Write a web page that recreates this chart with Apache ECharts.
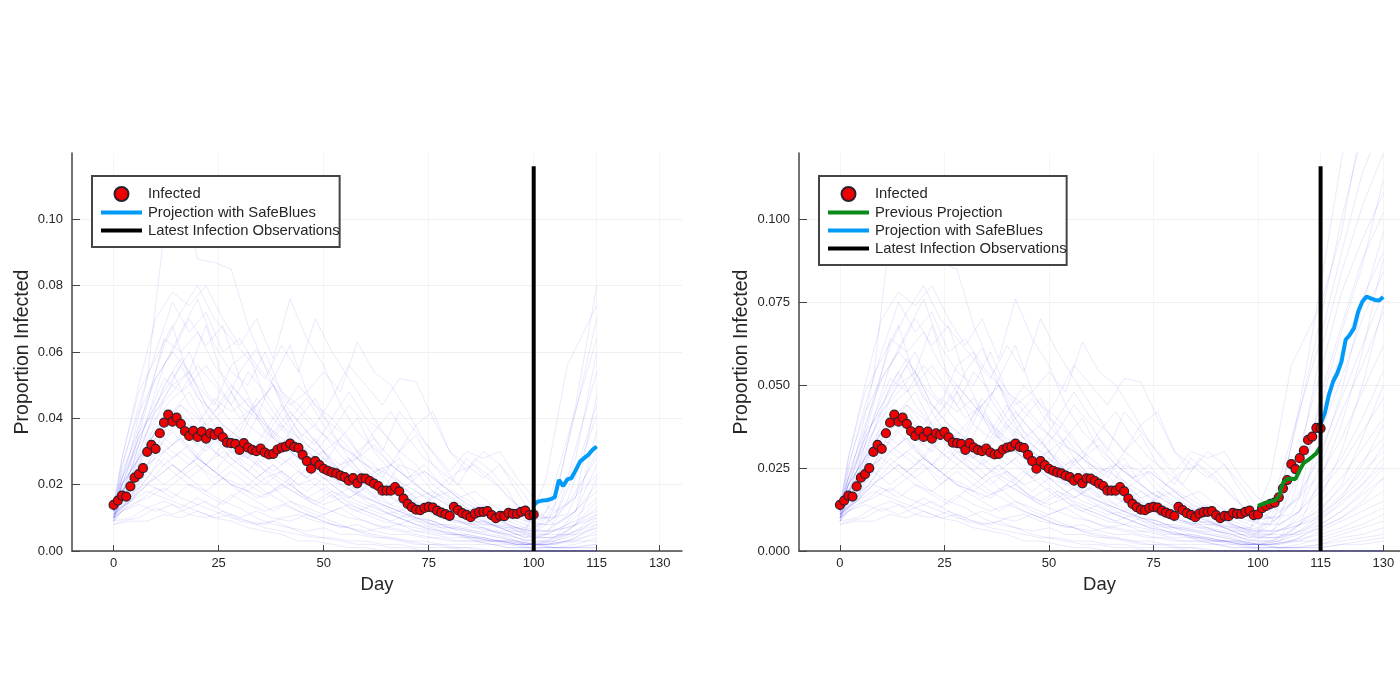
<!DOCTYPE html>
<html>
<head>
<meta charset="utf-8">
<style>
  html, body { margin: 0; padding: 0; background: #fff; }
  #chart { width: 1400px; height: 700px; }
</style>
<script src="https://cdn.jsdelivr.net/npm/echarts@6/dist/echarts.min.js"></script>
</head>
<body>
<div id="chart"></div>
<script>
// observed proportion infected, days 0-115
const infected = [
  .0139, .0152, .0167, .0164, .0195, .0221, .0232, .0250, .0299, .0320, .0308, .0355, .0387, .0411, .0390, .0402,
  .0383, .0361, .0347, .0362, .0344, .0360, .0339, .0355, .0350, .0359, .0343, .0327, .0325, .0323, .0305, .0325,
  .0312, .0305, .0301, .0309, .0297, .0291, .0293, .0306, .0312, .0315, .0324, .0314, .0311, .0290, .0271, .0248,
  .0271, .0259, .0248, .0242, .0237, .0234, .0227, .0223, .0212, .0220, .0204, .0219, .0218, .0211, .0203, .0196,
  .0182, .0182, .0182, .0193, .0180, .0158, .0142, .0132, .0125, .0123, .0130, .0133, .0131, .0122, .0116, .0111,
  .0106, .0133, .0123, .0114, .0109, .0102, .0113, .0117, .0118, .0120, .0108, .0099, .0106, .0105, .0115, .0112,
  .0112, .0118, .0122, .0108, .0110, .0129, .0136, .0142, .0146, .0162, .0189, .0214, .0262, .0247, .0280, .0303,
  .0335, .0345, .0371, .0370
]
const observedLeft = 101 // the left panel stops at day 100

// projections
const projLeftDays = [100, 101, 102, 103, 104, 105, 106, 107, 108, 109, 110, 111, 112, 113, 114, 115]
const projLeft = [.0139, .0149, .0152, .0153, .0156, .0162, .0214, .0196, .0216, .0220, .0244, .0269, .0280, .0290, .0305, .0315]
const prevDays = [100, 102, 104, 105, 106, 107, 108, 109, 110, 111, 112, 113, 114, 115]
const prevProj = [.0136, .0146, .0152, .0163, .0205, .0217, .0218, .0217, .0244, .0266, .0274, .0284, .0295, .0315]
const projRightDays = [115, 116, 117, 118, 119, 120, 121, 122, 123, 124, 125, 126, 127, 128, 129, 130]
const projRight = [.0383, .0415, .0471, .0511, .0536, .0571, .0637, .0652, .0672, .0722, .0752, .0767, .0762, .0757, .0755, .0766]

const latestLeft = 100
const latestRight = 115
const latestTop = .116

// ticks
const xTicks = [0, 25, 50, 75, 100, 115, 130]
const yTicksLeft = [0, .02, .04, .06, .08, .10]
const yTicksRight = [0, .025, .05, .075, .10]

// safe blues trajectories, read by eye in thousandths. odd ones use daysA, even ones daysB
const daysA = [0, 4, 8, 12, 16, 20, 24, 28, 32, 36, 40, 44, 48, 52, 56, 60, 64, 68, 72, 76, 80, 84, 88, 92, 96, 100, 105, 110, 115, 120, 125, 130]
const daysB = [0, 2, 6, 10, 14, 18, 22, 26, 30, 34, 38, 42, 46, 50, 54, 58, 62, 66, 70, 74, 78, 82, 86, 90, 94, 98, 103, 108, 115, 120, 125, 130]
const trajectories = [
  [14, 30, 52, 96, 108, 88, 87, 85, 68, 56, 48, 42, 37, 33, 30, 26, 24, 21, 18, 15, 12, 10, 8, 7, 6, 5, 14, 44, 80, 118, 150, 170],
  [12, 28, 50, 70, 78, 74, 80, 70, 62, 70, 58, 76, 64, 56, 44, 36, 31, 26, 22, 18, 15, 12, 9, 8, 7, 6, 22, 56, 74, 96, 130, 160],
  [13, 27, 46, 62, 72, 80, 70, 64, 58, 52, 62, 54, 70, 60, 52, 44, 36, 30, 26, 20, 16, 13, 11, 9, 7, 6, 16, 42, 70, 100, 126, 148],
  [11, 25, 44, 60, 75, 66, 72, 60, 64, 56, 50, 44, 48, 54, 48, 63, 54, 50, 42, 33, 26, 20, 15, 11, 9, 7, 12, 34, 64, 90, 114, 130],
  [10, 24, 40, 56, 66, 76, 62, 54, 50, 60, 48, 44, 38, 46, 56, 50, 44, 52, 51, 40, 30, 24, 30, 26, 18, 10, 10, 28, 60, 84, 104, 120],
  [14, 26, 42, 52, 60, 54, 68, 52, 44, 40, 52, 62, 48, 40, 36, 30, 34, 28, 22, 18, 15, 12, 10, 8, 6, 4, 8, 22, 54, 78, 94, 108],
  [12, 22, 36, 50, 58, 50, 44, 56, 60, 46, 38, 34, 30, 36, 44, 38, 30, 42, 36, 30, 24, 30, 28, 30, 22, 16, 12, 16, 47, 68, 88, 102],
  [9, 20, 34, 44, 52, 60, 48, 42, 54, 61, 50, 40, 32, 28, 24, 30, 26, 20, 16, 14, 18, 15, 11, 8, 6, 4, 5, 15, 41, 60, 76, 90],
  [13, 22, 32, 46, 56, 46, 42, 50, 44, 38, 32, 40, 46, 36, 28, 22, 18, 26, 24, 18, 14, 11, 9, 7, 5, 4, 4, 12, 36, 52, 70, 84],
  [10, 18, 30, 42, 50, 54, 44, 38, 34, 44, 50, 38, 30, 26, 34, 40, 30, 24, 18, 14, 20, 24, 26, 22, 16, 12, 10, 11, 30, 46, 62, 78],
  [11, 16, 24, 34, 40, 36, 42, 48, 38, 34, 42, 50, 44, 40, 48, 40, 36, 30, 38, 42, 30, 26, 22, 26, 20, 13, 8, 12, 26, 42, 56, 72],
  [10, 16, 22, 30, 36, 30, 26, 32, 38, 44, 34, 40, 46, 38, 32, 28, 36, 42, 34, 28, 24, 20, 28, 24, 18, 9, 8, 14, 23, 34, 48, 62],
  [12, 20, 30, 38, 44, 40, 34, 30, 28, 36, 44, 36, 32, 40, 34, 26, 22, 30, 35, 26, 20, 28, 23, 19, 14, 8, 8, 12, 20, 28, 40, 54],
  [13, 24, 36, 42, 48, 54, 44, 38, 34, 30, 36, 42, 36, 30, 24, 28, 32, 26, 22, 26, 20, 17, 14, 11, 8, 6, 6, 10, 18, 26, 36, 46],
  [11, 20, 32, 40, 44, 38, 46, 42, 46, 36, 32, 28, 34, 26, 22, 20, 24, 28, 20, 16, 18, 14, 12, 9, 6, 4, 4, 8, 15, 22, 31, 40],
  [9, 16, 26, 36, 42, 48, 38, 34, 30, 40, 34, 30, 26, 30, 24, 20, 16, 20, 16, 13, 11, 9, 8, 6, 5, 3, 3, 6, 13, 19, 27, 34],
  [14, 22, 34, 40, 36, 32, 38, 34, 28, 32, 38, 32, 28, 24, 28, 22, 18, 15, 18, 14, 11, 8, 7, 5, 4, 3, 3, 6, 11, 17, 24, 30],
  [12, 20, 28, 36, 40, 34, 30, 36, 32, 26, 30, 26, 22, 26, 22, 18, 21, 16, 13, 10, 8, 7, 6, 5, 4, 2, 3, 5, 9, 15, 20, 26],
  [10, 18, 26, 30, 34, 28, 34, 28, 24, 30, 26, 30, 24, 20, 16, 19, 15, 13, 10, 9, 7, 6, 5, 4, 3, 2, 2, 4, 8, 12, 17, 22],
  [13, 18, 24, 32, 28, 32, 26, 30, 26, 22, 26, 22, 18, 22, 18, 15, 13, 11, 9, 7, 6, 5, 4, 3, 3, 2, 2, 3, 7, 10, 14, 18],
  [11, 15, 20, 26, 30, 26, 22, 26, 30, 24, 20, 24, 20, 16, 19, 15, 12, 10, 8, 7, 5, 5, 4, 3, 2, 2, 2, 3, 6, 9, 12, 15],
  [9, 13, 18, 22, 26, 22, 26, 22, 18, 22, 26, 20, 16, 19, 15, 12, 14, 11, 9, 7, 6, 5, 4, 3, 2, 2, 2, 3, 5, 7, 10, 13],
  [12, 15, 20, 18, 22, 26, 20, 24, 20, 17, 20, 17, 14, 17, 13, 11, 9, 8, 7, 6, 5, 4, 4, 3, 2, 1, 1, 2, 4, 6, 8, 11],
  [10, 12, 15, 19, 16, 20, 17, 14, 18, 15, 12, 15, 13, 11, 13, 10, 8, 7, 6, 6, 5, 5, 4, 3, 3, 2, 2, 3, 3, 5, 7, 9],
  [9, 10, 13, 15, 13, 16, 13, 17, 14, 12, 14, 12, 10, 12, 10, 9, 7, 8, 6, 5, 4, 4, 3, 3, 2, 2, 1, 1, 2, 4, 5, 7],
  [8, 9, 10, 13, 11, 13, 15, 12, 10, 12, 10, 9, 11, 9, 7, 8, 6, 5, 5, 4, 4, 3, 3, 2, 2, 1, 1, 1, 2, 3, 4, 5],
  [8, 9, 9, 11, 10, 12, 10, 11, 9, 8, 10, 11, 9, 8, 7, 6, 7, 6, 5, 4, 3, 3, 3, 3, 2, 2, 1, 1, 1, 2, 3, 4],
  [13, 22, 32, 40, 46, 50, 56, 48, 40, 44, 50, 42, 36, 30, 34, 28, 22, 18, 20, 24, 20, 16, 18, 14, 11, 9, 10, 14, 28, 48, 74, 96],
  [12, 24, 40, 52, 48, 56, 50, 44, 54, 48, 40, 34, 38, 32, 26, 22, 25, 20, 16, 18, 15, 12, 14, 11, 9, 7, 10, 24, 44, 66, 86, 112],
  [10, 22, 34, 44, 54, 44, 38, 42, 36, 46, 40, 34, 28, 30, 26, 28, 24, 26, 22, 24, 20, 16, 13, 11, 8, 6, 5, 8, 16, 30, 50, 74],
  [14, 26, 44, 64, 60, 66, 56, 50, 44, 38, 34, 30, 26, 22, 19, 16, 14, 12, 10, 9, 7, 6, 5, 4, 3, 2, 3, 8, 22, 38, 60, 88],
  [11, 20, 28, 34, 30, 26, 32, 36, 30, 26, 23, 20, 25, 28, 22, 18, 15, 12, 10, 14, 11, 9, 7, 6, 5, 3, 5, 8, 12, 20, 34, 50],
  [9, 15, 22, 30, 34, 28, 24, 20, 18, 16, 20, 17, 14, 12, 14, 12, 10, 8, 10, 8, 7, 5, 4, 3, 3, 2, 3, 5, 10, 16, 26, 38],
  [12, 22, 38, 52, 60, 70, 62, 68, 52, 42, 36, 30, 26, 22, 20, 17, 15, 13, 11, 9, 7, 5, 3, 2, 1, 1, 0, 0, 0, 0, 0, 0],
  [10, 16, 26, 36, 42, 36, 30, 26, 22, 18, 15, 12, 10, 8, 7, 5, 4, 3, 2, 2, 1, 1, 0, 0, 0, 0, 0, 0, 0, 0, 0, 0],
  [13, 18, 24, 28, 24, 20, 18, 15, 13, 10, 8, 7, 5, 4, 3, 2, 2, 1, 1, 0, 0, 0, 0, 0, 0, 0, 0, 0, 0, 0, 0, 0],
  [11, 15, 18, 16, 14, 12, 10, 9, 7, 6, 5, 3, 3, 2, 1, 1, 0, 0, 0, 0, 0, 0, 0, 0, 0, 0, 0, 0, 0, 0, 0, 0],
  [14, 28, 48, 58, 68, 52, 42, 34, 28, 24, 19, 15, 12, 10, 8, 6, 5, 4, 3, 2, 2, 1, 1, 0, 0, 0, 0, 0, 0, 0, 0, 0],
  [10, 14, 16, 19, 16, 14, 12, 10, 9, 7, 6, 5, 4, 4, 3, 3, 2, 2, 1, 1, 1, 0, 0, 0, 0, 0, 0, 0, 0, 0, 0, 0],
  [9, 12, 14, 12, 14, 11, 10, 12, 9, 8, 9, 7, 6, 7, 5, 5, 4, 4, 3, 3, 2, 2, 2, 2, 1, 1, 1, 1, 1, 2, 2, 3],
  [12, 18, 24, 20, 24, 28, 24, 20, 18, 22, 24, 18, 15, 18, 15, 13, 11, 12, 9, 8, 8, 7, 7, 6, 6, 5, 5, 5, 7, 10, 15, 22],
  [13, 20, 28, 36, 32, 38, 32, 28, 34, 28, 24, 28, 22, 26, 20, 24, 18, 14, 17, 13, 10, 9, 8, 8, 7, 7, 6, 7, 10, 14, 20, 28],
  [11, 16, 22, 28, 24, 28, 24, 30, 24, 20, 24, 20, 22, 18, 16, 19, 14, 12, 14, 11, 9, 8, 9, 8, 7, 6, 6, 8, 11, 16, 22, 32],
  [10, 15, 19, 22, 26, 22, 18, 22, 20, 16, 18, 20, 16, 14, 16, 13, 11, 9, 11, 8, 7, 7, 6, 6, 5, 5, 4, 5, 8, 12, 18, 25]
]

const textColor = '#262626'
const fontFamily = '"Liberation Sans", Arial, sans-serif'

const pairs = (days, values) => days.map((d, i) => [d, values[i]])

// thin blue lines for one panel, cut at lastDay
const trajectorySeries = (panel, lastDay) => trajectories.map((values, i) => {
    const days = i % 2 === 0 ? daysA : daysB
    return {
        type: 'line',
        xAxisIndex: panel,
        yAxisIndex: panel,
        silent: true,
        symbol: 'none',
        z: 1,
        lineStyle: { width: 1, color: 'rgba(40, 40, 240, 0.1)' },
        data: days.map((d, j) => [d, values[j] / 1000]).filter(p => p[0] <= lastDay)
    }
})

const infectedSeries = (panel, count) => ({
    name: 'Infected',
    type: 'scatter',
    xAxisIndex: panel,
    yAxisIndex: panel,
    symbol: 'circle',
    symbolSize: 9,
    z: 3,
    itemStyle: { color: '#f00000', borderColor: '#2a2030', borderWidth: 1.2, opacity: 1 },
    data: infected.slice(0, count).map((v, i) => [i, v])
})

const pathSeries = (panel, name, color, width, data, z) => ({
    name,
    type: 'line',
    xAxisIndex: panel,
    yAxisIndex: panel,
    symbol: 'none',
    z,
    itemStyle: { color },
    lineStyle: { width, color },
    data
})

// line entries only show their stroke, not the dot ECharts adds
const legendEntry = name => name === 'Infected'
    ? name
    : { name, itemStyle: { opacity: 0 }, lineStyle: { width: 4 } }

const makeLegend = (left, names) => ({
    orient: 'vertical',
    left,
    top: 176,
    padding: [10, 0, 9, 7],
    itemWidth: 41,
    itemHeight: 14,
    itemGap: 3,
    backgroundColor: '#fff',
    borderColor: '#444',
    borderWidth: 2,
    textStyle: { color: textColor, fontSize: 14.8, fontFamily, padding: [0, 0, 0, 1] },
    data: names.map(legendEntry)
})

const makeXAxis = (gridIndex, min, max) => ({
    gridIndex,
    type: 'value',
    min,
    max,
    name: 'Day',
    nameLocation: 'middle',
    nameGap: 24,
    nameTextStyle: { color: textColor, fontSize: 18.5, fontFamily },
    axisLine: { onZero: false, lineStyle: { color: '#444', width: 1.5 } },
    axisTick: { customValues: xTicks, inside: true, length: 6, lineStyle: { color: '#444' } },
    axisLabel: { customValues: xTicks, color: textColor, fontSize: 13, fontFamily, margin: 6 },
    splitLine: { show: true, lineStyle: { color: '#f5f5f5' } }
})

const makeYAxis = (gridIndex, ticks, digits, nameGap) => ({
    gridIndex,
    type: 'value',
    min: 0,
    max: .12,
    name: 'Proportion Infected',
    nameLocation: 'middle',
    nameGap,
    nameTextStyle: { color: textColor, fontSize: 19.5, fontFamily },
    axisLine: { show: true, onZero: false, lineStyle: { color: '#444', width: 1.5 } },
    axisTick: { show: true, customValues: ticks, inside: true, length: 8, lineStyle: { color: '#444' } },
    axisLabel: {
        customValues: ticks,
        color: textColor,
        fontSize: 13,
        fontFamily,
        margin: 9,
        formatter: v => v.toFixed(digits)
    },
    splitLine: { show: true, lineStyle: { color: '#f0f0f0' } }
})

const myChart = echarts.init(document.querySelector('#chart'))
const option = {
    animation: false,
    backgroundColor: '#fff',
    legend: [
        makeLegend(92, ['Infected', 'Projection with SafeBlues', 'Latest Infection Observations']),
        makeLegend(819, ['Infected', 'Previous Projection', 'Projection with SafeBlues', 'Latest Infection Observations'])
    ],
    grid: [
        { left: 72, top: 153, width: 610, height: 398 },
        { left: 799, top: 153, width: 601, height: 398 }
    ],
    xAxis: [makeXAxis(0, -9.9, 135.3), makeXAxis(1, -9.8, 134)],
    yAxis: [makeYAxis(0, yTicksLeft, 2, 39), makeYAxis(1, yTicksRight, 3, 47)],
    series: [
        ...trajectorySeries(0, 115),
        ...trajectorySeries(1, 130),
        infectedSeries(0, observedLeft),
        infectedSeries(1, infected.length),
        pathSeries(0, 'Projection with SafeBlues', '#009af9', 4, pairs(projLeftDays, projLeft), 4),
        pathSeries(1, 'Previous Projection', '#0b8a1a', 4, pairs(prevDays, prevProj), 4),
        pathSeries(1, 'Projection with SafeBlues', '#009af9', 4, pairs(projRightDays, projRight), 4),
        pathSeries(0, 'Latest Infection Observations', '#000', 4, [[latestLeft, 0], [latestLeft, latestTop]], 5),
        pathSeries(1, 'Latest Infection Observations', '#000', 4, [[latestRight, 0], [latestRight, latestTop]], 5)
    ]
}
myChart.setOption(option)
</script>
</body>
</html>
